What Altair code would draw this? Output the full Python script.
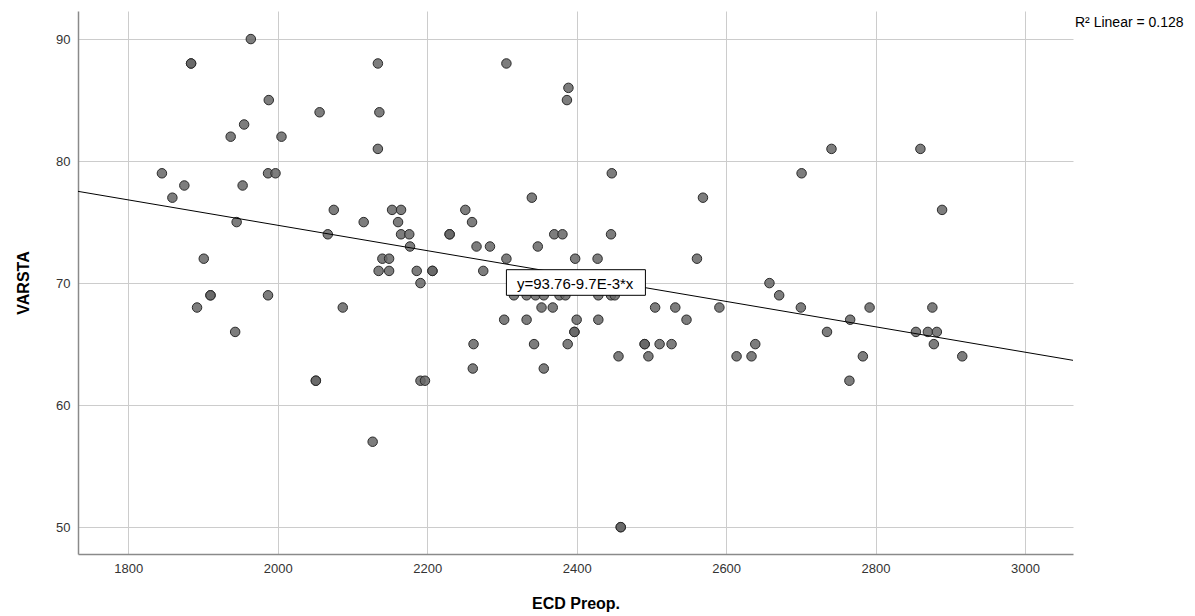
import altair as alt
import pandas as pd

# --- data ---
ecd = [1964, 1884, 1884, 1988, 2056, 1955, 1937, 2005, 1845, 1987, 1997, 1875, 1953, 1859, 2075, 1945, 2067, 1901,
       2134, 2306, 2389, 2387, 2136, 2134, 2340, 2153, 2165, 2251, 2115, 2161, 2260, 2165, 2176, 2230, 2230, 2370,
       2381, 2177, 2266, 2284, 2348, 2140, 2149, 2306, 2398, 2135, 2149, 2186, 2207, 2207, 2275, 2191,
       2741, 2701, 2447, 2569, 2446, 2428, 2561, 2658,
       2860, 2889,
       1910, 1910, 1987, 1892, 1943, 2051, 2051,
       2087, 2316, 2333, 2345, 2356, 2377, 2385, 2353, 2368, 2303, 2333, 2400, 2397, 2397, 2262, 2343, 2388, 2261,
       2356, 2191, 2197, 2127,
       2671, 2700, 2735, 2429, 2446, 2451, 2505, 2532, 2591, 2429, 2547, 2491, 2491, 2511, 2527, 2456, 2496, 2614,
       2634, 2639, 2459, 2459,
       2792, 2766, 2783, 2765, 2876, 2854, 2870, 2882, 2878, 2916]
varsta = [90, 88, 88, 85, 84, 83, 82, 82, 79, 79, 79, 78, 78, 77, 76, 75, 74, 72,
          88, 88, 86, 85, 84, 81, 77, 76, 76, 76, 75, 75, 75, 74, 74, 74, 74, 74,
          74, 73, 73, 73, 73, 72, 72, 72, 72, 71, 71, 71, 71, 71, 71, 70,
          81, 79, 79, 77, 74, 72, 72, 70,
          81, 76,
          69, 69, 69, 68, 66, 62, 62,
          68, 69, 69, 69, 69, 69, 69, 68, 68, 67, 67, 67, 66, 66, 65, 65, 65, 63,
          63, 62, 62, 57,
          69, 68, 66, 69, 69, 69, 68, 68, 68, 67, 67, 65, 65, 65, 65, 64, 64, 64,
          64, 65, 50, 50,
          68, 67, 64, 62, 68, 66, 66, 66, 65, 64]

x_ticks = [1800, 2000, 2200, 2400, 2600, 2800, 3000]
y_ticks = [50, 60, 70, 80, 90]
x_domain = [1732.7, 3064.2]
y_domain = [47.8, 92.3]

eq_text = ["y=93.76-9.7E-3*x"]
eq_x = [2398]
eq_y = [69.95]
box_x = [2306]
box_x2 = [2492]
box_y = [69.0]
box_y2 = [71.1]

r2_text = ["R² Linear = 0.128"]

df = pd.DataFrame({"ECD": ecd, "VARSTA": varsta})
eq_df = pd.DataFrame({"ECD": eq_x, "VARSTA": eq_y, "t": eq_text})
box_df = pd.DataFrame({"ECD": box_x, "ECD2": box_x2, "VARSTA": box_y, "VARSTA2": box_y2})
r2_df = pd.DataFrame({"t": r2_text})

FONT = "Liberation Sans"
W, H = 995, 543

xs = alt.Scale(domain=x_domain, nice=False, zero=False)
ys = alt.Scale(domain=y_domain, nice=False, zero=False)

x_axis = alt.Axis(values=x_ticks, format="d", title="ECD Preop.", labelPadding=8, titlePadding=20)
y_axis = alt.Axis(values=y_ticks, format="d", title="VARSTA", labelPadding=8, titlePadding=24)

X = alt.X("ECD:Q", scale=xs, axis=x_axis, title="ECD Preop.")
Y = alt.Y("VARSTA:Q", scale=ys, axis=y_axis, title="VARSTA")

points = alt.Chart(df).mark_point(
    filled=True, shape="circle", size=90, fill="#666666", fillOpacity=0.85,
    stroke="#2a2a2a", strokeWidth=1, opacity=1
).encode(x=X, y=Y)

fit = alt.Chart(df).transform_regression(
    "ECD", "VARSTA", method="linear", extent=x_domain
).mark_line(color="#000000", strokeWidth=1).encode(x=X, y=Y)

box = alt.Chart(box_df).mark_rect(fill="white", stroke="black", strokeWidth=1).encode(
    x=X, x2="ECD2:Q", y=Y, y2="VARSTA2:Q"
)

eq = alt.Chart(eq_df).mark_text(font=FONT, fontSize=15, color="black", align="center", baseline="middle").encode(
    x=X, y=Y, text="t:N"
)

r2 = alt.Chart(r2_df).mark_text(font=FONT, fontSize=14, color="black", align="left", baseline="middle").encode(
    x=alt.value(W + 2), y=alt.value(12), text="t:N"
)

chart = alt.layer(points, fit, box, eq, r2).properties(
    width=W, height=H,
    padding={"left": 70, "top": 3, "right": 114, "bottom": 60},
    autosize=alt.AutoSizeParams(type="none"),
    background="white",
).configure_view(stroke=None).configure_axis(
    grid=True, gridColor="#cccccc", gridWidth=1,
    domainColor="#8a8a8a", domainWidth=1.5,
    ticks=False,
    labelFont=FONT, labelFontSize=13, labelColor="#333333",
    titleFont=FONT, titleFontSize=16, titleFontWeight="bold", titleColor="#000000",
)

chart.save("out.html", embed_options={"renderer": "svg", "actions": False})
